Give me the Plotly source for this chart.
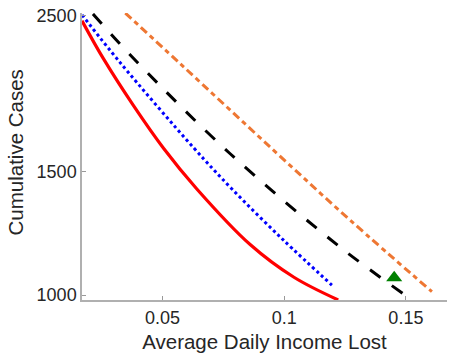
import plotly.graph_objects as go

# Data
red_x = [0.0169, 0.0257, 0.0380, 0.0504, 0.0640, 0.0860, 0.1040, 0.1222]
red_y = [2457, 2170, 1862, 1618, 1417, 1180, 1060, 984]

blue_x = [0.0169, 0.0325, 0.0628, 0.0784, 0.0997, 0.1196]
blue_y = [2505, 2144, 1620, 1417, 1197, 1033]

black_x = [0.0214, 0.0393, 0.0778, 0.1223, 0.1500]
black_y = [2513, 2150, 1589, 1175, 998]

orange_x = [0.0347, 0.0573, 0.0950, 0.1271, 0.1607]
orange_y = [2520, 2134, 1615, 1278, 1011]

point_x = [0.1452]
point_y = [1058]

x_ticks = [0.05, 0.1, 0.15]
x_ticklabels = ["0.05", "0.1", "0.15"]
y_ticks = [1000, 1500, 2500]
y_ticklabels = ["1000", "1500", "2500"]

fig = go.Figure()
fig.add_trace(go.Scatter(x=red_x, y=red_y, mode="lines", line_shape="spline",
                         line=dict(color="#ff0000", width=3.2)))
fig.add_trace(go.Scatter(x=blue_x, y=blue_y, mode="lines", line_shape="spline",
                         line=dict(color="#0000ff", width=3, dash="dot")))
fig.add_trace(go.Scatter(x=black_x, y=black_y, mode="lines", line_shape="spline",
                         line=dict(color="#000000", width=3, dash="13px,14px")))
fig.add_trace(go.Scatter(x=orange_x, y=orange_y, mode="lines", line_shape="spline",
                         line=dict(color="#ee7733", width=3, dash="8px,4px,5px,4px")))
fig.add_trace(go.Scatter(x=point_x, y=point_y, mode="markers",
                         marker=dict(symbol="triangle-up", size=14, color="#008000")))

font_family = "Liberation Sans, Arial, sans-serif"
fig.update_layout(
    width=451, height=358,
    margin=dict(l=82, r=4, t=13, b=58),
    plot_bgcolor="white", paper_bgcolor="white",
    showlegend=False,
    font=dict(family=font_family, size=18, color="#262626"),
    xaxis=dict(
        range=[0.0169, 0.1669],
        automargin=False,
        tickvals=x_ticks, ticktext=x_ticklabels,
        ticks="inside", ticklen=4, tickcolor="#999999",
        ticklabelstandoff=1,
        ticklabeloverflow="allow",
        showline=True, linecolor="#b0b0b0", linewidth=1.5,
        showgrid=False, zeroline=False,
        title=dict(text="Average Daily Income Lost", font=dict(size=20.5), standoff=7),
        tickfont=dict(size=18),
    ),
    yaxis=dict(
        type="log",
        range=[2.9929, 3.4015],
        automargin=False,
        tickvals=y_ticks, ticktext=y_ticklabels,
        ticks="inside", ticklen=4, tickcolor="#999999",
        ticklabeloverflow="allow",
        showline=True, linecolor="#b0b0b0", linewidth=1.5,
        showgrid=False, zeroline=False,
        tickfont=dict(size=18),
    ),
    annotations=[dict(
        text="Cumulative Cases", textangle=-90,
        xref="paper", yref="paper", x=-0.1836, y=0.514,
        xanchor="center", yanchor="middle", showarrow=False,
        font=dict(size=20.5, color="#262626"),
    )],
)

fig.write_html("out.html",
               config={"displayModeBar": False},
               post_script="document.body.style.margin='0px';document.body.style.padding='0px';")
